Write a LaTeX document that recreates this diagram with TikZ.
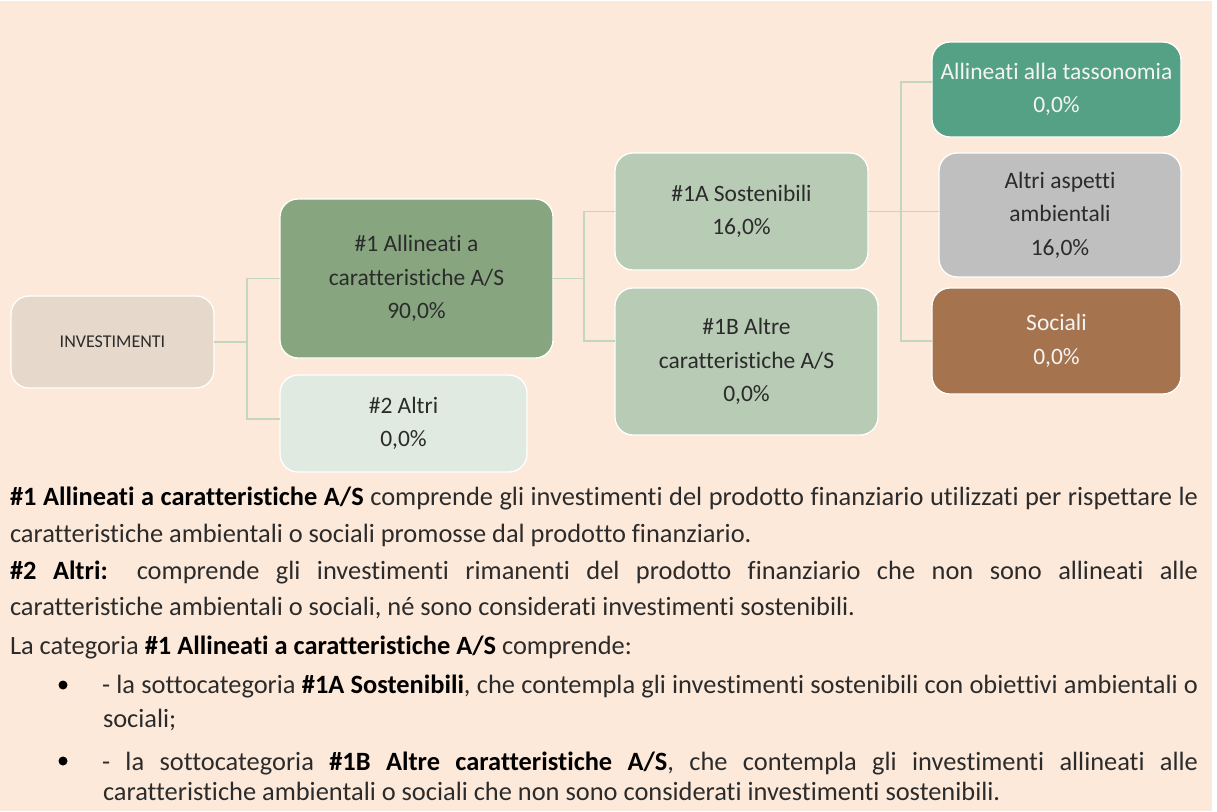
\documentclass[tikz,border=0pt]{standalone}
\usepackage{fontspec}
\setmainfont{Carlito}[Ligatures={NoCommon}]
\definecolor{peach}{HTML}{FDE9D9}
\definecolor{conncol}{HTML}{C3D6BE}
\definecolor{txt}{HTML}{2B2B2B}
\definecolor{invfill}{HTML}{E7D8CC}
\definecolor{aonefill}{HTML}{87A680}
\definecolor{atwofill}{HTML}{E1EAE0}
\definecolor{subfill}{HTML}{B8CBB5}
\definecolor{taxfill}{HTML}{55A185}
\definecolor{ambfill}{HTML}{BFBFBF}
\definecolor{socfill}{HTML}{A5744E}
\definecolor{lighttxt}{HTML}{F4F4F4}
\tikzset{
  boxnode/.style={draw=white, line width=1.3pt, rounded corners=18pt, inner sep=0pt, outer sep=0pt,
    align=center, text=txt, font=\fontsize{23.5}{33.5}\selectfont},
  conn/.style={draw=conncol, line width=1.3pt},
  bodyline/.style={anchor=base west, inner sep=0pt, outer sep=0pt, text=txt, font=\fontsize{26.4}{30}\selectfont},
  bulletdot/.style={circle, fill=black, inner sep=0pt, minimum size=9pt}
}
\newcommand{\bt}[1]{\textbf{\color{black}#1}}
\begin{document}
\begin{tikzpicture}[x=1pt,y=-1pt]
\useasboundingbox (0,0) rectangle (1217,811);
\fill[white] (0,0) rectangle (1217,811);
\fill[peach] (0,1) rectangle (1212,811);

% boxes
\node[boxnode, fill=invfill, minimum width=203pt, minimum height=92pt, font=\fontsize{18}{22}\selectfont] (inv) at (112.5,342) {INVESTIMENTI};
\node[boxnode, fill=aonefill, minimum width=273pt, minimum height=159pt] (a1) at (416.5,278.5) {\#1 Allineati a\\caratteristiche A/S\\90,0\%};
\node[boxnode, fill=atwofill, minimum width=247pt, minimum height=97pt] (a2) at (403.5,423.5) {\#2 Altri\\0,0\%};
\node[boxnode, fill=subfill, minimum width=253pt, minimum height=117pt] (s1a) at (741.5,211.5) {\#1A Sostenibili\\16,0\%};
\node[boxnode, fill=subfill, minimum width=263pt, minimum height=147pt] (s1b) at (746.5,361.5) {\#1B Altre\\caratteristiche A/S\\0,0\%};
\node[boxnode, fill=taxfill, text=lighttxt, minimum width=249pt, minimum height=95pt] (tax) at (1056.5,89.5) {Allineati alla tassonomia\\0,0\%};
\node[boxnode, fill=ambfill, minimum width=242pt, minimum height=124pt] (amb) at (1060,215) {Altri aspetti\\ambientali\\16,0\%};
\node[boxnode, fill=socfill, text=lighttxt, minimum width=249pt, minimum height=106pt] (soc) at (1056.5,341) {Sociali\\0,0\%};

% connectors
\coordinate (j1t) at (247,278.5);
\coordinate (j1b) at (247,419);
\draw[conn] (inv.east) -- (inv.east -| j1t);
\draw[conn] (a1.west) -- (j1t) -- (j1b) -- (j1b -| a2.west);
\coordinate (j2t) at (584,211.5);
\coordinate (j2b) at (584,341);
\draw[conn] (a1.east) -- (a1.east -| j2t);
\draw[conn] (s1a.west) -- (j2t) -- (j2b) -- (j2b -| s1b.west);
\coordinate (j3t) at (901,82);
\coordinate (j3b) at (901,341);
\draw[conn] (s1a.east) -- (s1a.east -| amb.west);
\draw[conn] (j3t -| tax.west) -- (j3t) -- (j3b) -- (soc.west);

% body text
\node[bodyline] (l1) at (10,505) {\makebox[1188pt][s]{\bt{\#1 Allineati a caratteristiche A/S} comprende gli investimenti del prodotto finanziario utilizzati per rispettare le}};
\node[bodyline] (l2) at (10,542) {caratteristiche ambientali o sociali promosse dal prodotto finanziario.};
\node[bodyline] (l3) at (10,579) {\makebox[1188pt][s]{\bt{\#2 Altri:} comprende gli investimenti rimanenti del prodotto finanziario che non sono allineati alle}};
\node[bodyline] (l4) at (10,615) {caratteristiche ambientali o sociali, né sono considerati investimenti sostenibili.};
\node[bodyline] (l5) at (10,654) {La categoria \bt{\#1 Allineati a caratteristiche A/S} comprende:};
\node[bulletdot] (b1) at (63,685) {};
\node[bodyline] (l6) at (102,693) {\makebox[1096pt][s]{- la sottocategoria \bt{\#1A Sostenibili}, che contempla gli investimenti sostenibili con obiettivi ambientali o}};
\node[bodyline] (l7) at (103,727) {sociali;};
\node[bulletdot] (b2) at (63,761) {};
\node[bodyline] (l8) at (102,770) {\makebox[1096pt][s]{- la sottocategoria \bt{\#1B Altre caratteristiche A/S}, che contempla gli investimenti allineati alle}};
\node[bodyline] (l9) at (103,800) {caratteristiche ambientali o sociali che non sono considerati investimenti sostenibili.};
\end{tikzpicture}
\end{document}
